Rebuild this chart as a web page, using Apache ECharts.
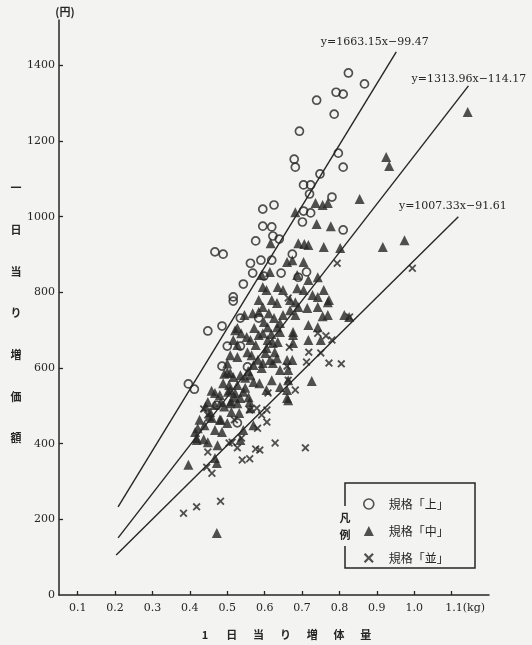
<!DOCTYPE html>
<html>
<head>
<meta charset="utf-8">
<script src="https://cdn.jsdelivr.net/npm/echarts@6/dist/echarts.min.js"></script>
<style>
  html, body { margin: 0; padding: 0; background: #f3f3f1; }
  #main { width: 532px; height: 645px; }
</style>
</head>
<body>
<div id="main"></div>
<script>
// tick values
const xTicks = [0.1, 0.2, 0.3, 0.4, 0.5, 0.6, 0.7, 0.8, 0.9, 1.0, 1.1];
const yTicks = [200, 400, 600, 800, 1000, 1200, 1400];
const yLabels = [0, 200, 400, 600, 800, 1000, 1200, 1400];

const gradeNames = ["規格「上」", "規格「中」", "規格「並」"];

// 規格「上」 (circles)
const upperPts = [
  [0.824, 1380], [0.867, 1351], [0.791, 1329], [0.810, 1324], [0.739, 1308],
  [0.786, 1271], [0.693, 1226], [0.797, 1168], [0.679, 1152], [0.682, 1131],
  [0.810, 1131], [0.748, 1113], [0.704, 1084], [0.723, 1084], [0.720, 1060],
  [0.780, 1052], [0.625, 1031], [0.595, 1020], [0.704, 1015], [0.723, 1010],
  [0.701, 986], [0.810, 965], [0.595, 975], [0.619, 973], [0.622, 949],
  [0.639, 941], [0.576, 936], [0.467, 907], [0.489, 901], [0.562, 877],
  [0.590, 885], [0.619, 885], [0.674, 901], [0.568, 851], [0.598, 843],
  [0.712, 854], [0.644, 851], [0.690, 840], [0.543, 822], [0.516, 788],
  [0.516, 777], [0.535, 732], [0.584, 732], [0.486, 711], [0.448, 698],
  [0.500, 658], [0.535, 658], [0.486, 605], [0.554, 603], [0.396, 558],
  [0.412, 544], [0.472, 502], [0.527, 455]
];

// 規格「中」 (triangles)
const middlePts = [
  [1.143, 1277], [0.925, 1158], [0.933, 1134], [0.854, 1047], [0.736, 1036],
  [0.755, 1031], [0.769, 1036], [0.682, 1012], [0.739, 981], [0.777, 975],
  [0.916, 920], [0.974, 938], [0.690, 930], [0.706, 928], [0.717, 925],
  [0.758, 920], [0.802, 917], [0.660, 880], [0.674, 885], [0.704, 880],
  [0.614, 854], [0.592, 846], [0.687, 846], [0.717, 833], [0.742, 840],
  [0.595, 814], [0.605, 806], [0.635, 814], [0.649, 806], [0.687, 811],
  [0.704, 806], [0.758, 806], [0.772, 780], [0.728, 793], [0.742, 788],
  [0.584, 780], [0.595, 761], [0.619, 780], [0.633, 772], [0.668, 780],
  [0.682, 774], [0.690, 761], [0.714, 759], [0.742, 761], [0.769, 774],
  [0.546, 740], [0.568, 745], [0.584, 748], [0.611, 745], [0.625, 732],
  [0.649, 740], [0.668, 753], [0.682, 740], [0.717, 714], [0.742, 708],
  [0.769, 740], [0.813, 740], [0.826, 735], [0.521, 700], [0.537, 692],
  [0.584, 687], [0.595, 692], [0.633, 708], [0.641, 695], [0.676, 695],
  [0.608, 674], [0.622, 666], [0.676, 666], [0.717, 674], [0.516, 674],
  [0.527, 661], [0.508, 634], [0.527, 629], [0.554, 642], [0.565, 634],
  [0.614, 621], [0.633, 626], [0.570, 608], [0.641, 595], [0.663, 595],
  [0.726, 566], [0.508, 587], [0.516, 576], [0.535, 581], [0.548, 574],
  [0.570, 563], [0.586, 560], [0.619, 568], [0.641, 550], [0.660, 542],
  [0.508, 542], [0.521, 534], [0.543, 537], [0.480, 529], [0.527, 706],
  [0.562, 674], [0.576, 661], [0.500, 589], [0.562, 581], [0.489, 560],
  [0.505, 555], [0.527, 555], [0.467, 534], [0.502, 537], [0.535, 521],
  [0.557, 523], [0.448, 510], [0.467, 502], [0.508, 507], [0.527, 507],
  [0.562, 494], [0.454, 484], [0.426, 463], [0.439, 449], [0.480, 463],
  [0.500, 455], [0.543, 436], [0.421, 441], [0.467, 436], [0.486, 431],
  [0.570, 449], [0.755, 737], [0.608, 708], [0.641, 719], [0.676, 687],
  [0.750, 674], [0.635, 669], [0.605, 653], [0.627, 642], [0.660, 621],
  [0.674, 621], [0.595, 613], [0.622, 613], [0.663, 568], [0.605, 542],
  [0.660, 521], [0.418, 410], [0.448, 404], [0.414, 431], [0.396, 344],
  [0.472, 349], [0.467, 362], [0.535, 410], [0.472, 164], [0.474, 396],
  [0.418, 415], [0.437, 412], [0.459, 468], [0.483, 463], [0.532, 481],
  [0.663, 515], [0.616, 930], [0.483, 510], [0.510, 512], [0.560, 510],
  [0.511, 484], [0.452, 472], [0.492, 498], [0.520, 522], [0.548, 548],
  [0.556, 592], [0.582, 622], [0.592, 600], [0.602, 640], [0.618, 690],
  [0.598, 722], [0.572, 706], [0.552, 682], [0.500, 612], [0.492, 585],
  [0.458, 540], [0.442, 498]
];

// 規格「並」 (crosses)
const lowerPts = [
  [0.794, 877], [0.995, 864], [0.827, 735], [0.742, 692], [0.764, 685],
  [0.780, 674], [0.666, 655], [0.718, 642], [0.750, 640], [0.712, 616],
  [0.772, 613], [0.805, 611], [0.660, 605], [0.663, 568], [0.609, 534],
  [0.663, 785], [0.437, 492], [0.579, 494], [0.560, 489], [0.592, 476],
  [0.606, 457], [0.581, 441], [0.519, 463], [0.538, 415], [0.527, 389],
  [0.540, 357], [0.560, 360], [0.448, 378], [0.445, 338], [0.459, 322],
  [0.576, 386], [0.628, 402], [0.709, 389], [0.383, 216], [0.418, 233],
  [0.482, 248], [0.587, 383], [0.505, 402], [0.606, 489], [0.682, 542],
  [0.448, 476], [0.513, 404]
];

// regression lines as drawn (start, end)
const fitLines = [
  [[0.208, 233], [0.952, 1436]],
  [[0.208, 151], [1.145, 1346]],
  [[0.203, 106], [1.118, 1000]]
];
const eqLabels = ["y=1663.15x−99.47", "y=1313.96x−114.17", "y=1007.33x−91.61"];

const yTitleChars = ["一", "日", "当", "り", "増", "価", "額"];
const xTitleChars = ["1", "日", "当", "り", "増", "体", "量"];

const ink = "#262626";
const bg = "#f3f3f1";
const serif = "DejaVu Serif";
const cjk = "Noto Sans CJK JP";
const crossPath = "path://M0,1.6L1.6,0L5,3.4L8.4,0L10,1.6L6.6,5L10,8.4L8.4,10L5,6.6L1.6,10L0,8.4L3.4,5Z";

const labelPos = [[-21, -9], [1, -6], [-5, -10]];

const lineSeries = fitLines.map((seg, i) => ({
  name: "fit" + i,
  type: "line",
  data: seg,
  symbol: "none",
  silent: true,
  z: 1,
  lineStyle: { color: ink, width: 1.4 },
  markPoint: {
    symbol: "circle",
    symbolSize: 1,
    silent: true,
    itemStyle: { color: "rgba(0,0,0,0)" },
    data: [{ coord: seg[1] }],
    label: {
      show: true,
      formatter: eqLabels[i],
      position: labelPos[i],
      align: "center",
      verticalAlign: "middle",
      fontFamily: serif,
      fontSize: 11,
      color: ink
    }
  }
}));

const graphics = [];
yTitleChars.forEach((c, i) => {
  graphics.push({
    type: "text",
    x: 16,
    y: 188 + i * 41.7,
    style: { text: c, fontFamily: cjk, fontWeight: "bold", fontSize: 11, fill: ink, align: "center", verticalAlign: "middle" }
  });
});
xTitleChars.forEach((c, i) => {
  graphics.push({
    type: "text",
    x: 205 + i * 26.8,
    y: 635,
    style: { text: c, fontFamily: cjk, fontWeight: "bold", fontSize: 11, fill: ink, align: "center", verticalAlign: "middle" }
  });
});
// legend frame with 凡例
graphics.push({
  type: "rect",
  shape: { x: 345, y: 483, width: 130, height: 85 },
  style: { fill: "none", stroke: ink, lineWidth: 1.5 }
});
graphics.push({
  type: "text",
  x: 345,
  y: 526,
  style: {
    text: "凡\n例", fontFamily: cjk, fontWeight: "bold", fontSize: 11, fill: ink,
    align: "center", verticalAlign: "middle", lineHeight: 17,
    backgroundColor: bg, padding: [3, 1]
  }
});

const chart = echarts.init(document.getElementById("main"));
chart.setOption({
  backgroundColor: bg,
  animation: false,
  grid: { left: 59, right: 43, top: 20, bottom: 50 },
  legend: {
    data: [
      { name: gradeNames[0], icon: "circle", itemStyle: { color: "rgba(0,0,0,0)", borderColor: ink, borderWidth: 1.6 } },
      { name: gradeNames[1], icon: "triangle", itemStyle: { color: ink } },
      { name: gradeNames[2], icon: crossPath, itemStyle: { color: ink } }
    ],
    orient: "vertical",
    left: 363,
    top: 498,
    padding: 0,
    itemWidth: 10,
    itemHeight: 10,
    itemGap: 15,
    selectedMode: false,
    textStyle: { fontFamily: cjk, fontSize: 12, color: ink, padding: [0, 0, 0, 10] }
  },
  xAxis: {
    type: "value",
    min: 0.05,
    max: 1.2,
    splitLine: { show: false },
    axisLine: { lineStyle: { color: ink, width: 1.5 } },
    axisTick: { inside: true, length: 4, customValues: xTicks, lineStyle: { color: ink, width: 1.3 } },
    axisLabel: {
      customValues: xTicks,
      margin: 8,
      fontFamily: serif,
      fontSize: 11,
      color: ink,
      formatter: (v) => (v === 1.1 ? "{k|1.1(kg)}" : v.toFixed(1)),
      rich: { k: { fontFamily: serif, fontSize: 11, color: ink, padding: [0, 0, 0, 27] } }
    }
  },
  yAxis: {
    type: "value",
    min: 0,
    max: 1520,
    name: "(円)",
    nameLocation: "end",
    nameGap: 3,
    nameTextStyle: { fontFamily: cjk, fontSize: 11, fontWeight: "bold", color: ink, padding: [0, 0, 0, 12] },
    splitLine: { show: false },
    axisLine: { lineStyle: { color: ink, width: 1.5 } },
    axisTick: { inside: true, length: 4, customValues: yTicks, lineStyle: { color: ink, width: 1.3 } },
    axisLabel: {
      customValues: yLabels,
      margin: 4,
      fontFamily: serif,
      fontSize: 11,
      color: ink,
      formatter: (v) => String(v)
    }
  },
  graphic: graphics,
  series: [
    ...lineSeries,
    {
      name: gradeNames[0],
      type: "scatter",
      data: upperPts,
      symbol: "circle",
      symbolSize: 8,
      z: 3,
      itemStyle: { color: "rgba(0,0,0,0)", borderColor: ink, borderWidth: 1.7 }
    },
    {
      name: gradeNames[1],
      type: "scatter",
      data: middlePts,
      symbol: "triangle",
      symbolSize: 10,
      z: 3,
      itemStyle: { color: ink }
    },
    {
      name: gradeNames[2],
      type: "scatter",
      data: lowerPts,
      symbol: crossPath,
      symbolSize: 8,
      z: 3,
      itemStyle: { color: ink }
    }
  ]
});
</script>
</body>
</html>
